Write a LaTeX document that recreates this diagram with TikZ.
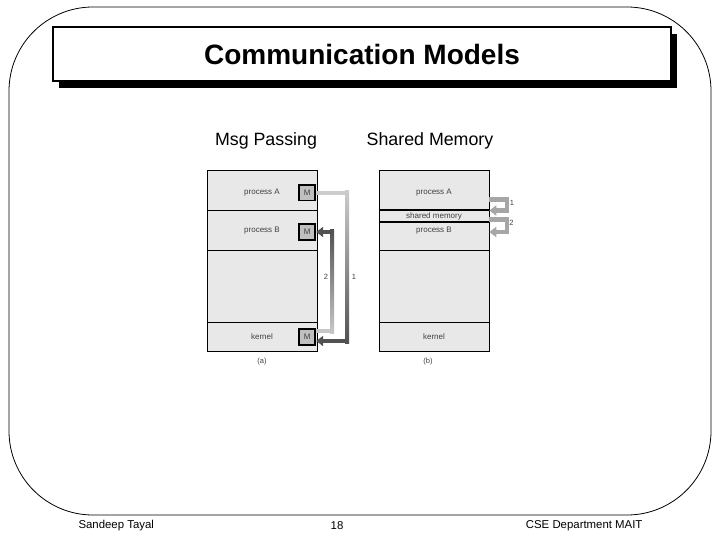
\documentclass[tikz,border=0pt]{standalone}
\usepackage{fontspec}
\setmainfont{Liberation Sans}
\usetikzlibrary{arrows.meta,calc}

\begin{document}
\begin{tikzpicture}[
    x=1pt, y=-1pt,
    sect/.style={draw, line width=0.6pt, fill=black!9, minimum width=110pt, inner sep=0pt,
                 font=\fontsize{8}{9}\selectfont, text=black!75},
    mbox/.style={draw, line width=1.7pt, fill=black!25, minimum width=16pt, minimum height=15.5pt,
                 inner sep=0pt, font=\fontsize{8}{9}\selectfont, text=black!75},
    pipe/.style={line width=4pt},
    num/.style={font=\fontsize{7.5}{8}\selectfont, text=black!75},
    foot/.style={font=\fontsize{11.4}{13}\selectfont},
    >={Triangle[length=7pt, width=10pt]}
]
    \useasboundingbox (0,0) rectangle (720,540);

    % frame and title
    \draw[line width=0.8pt, rounded corners=84pt] (9,7) rectangle (711,515);
    \fill (59,34) rectangle (677,88);
    \node[draw, line width=1.2pt, fill=white, minimum width=618pt, minimum height=54pt,
          font=\bfseries\fontsize{28}{32}\selectfont] (title) at (362,54) {Communication Models};

    % headings
    \node[font=\fontsize{17.8}{20}\selectfont] (hmsg) at (266,141) {Msg Passing};
    \node[font=\fontsize{17.8}{20}\selectfont] (hshm) at (430,141) {Shared Memory};

    % (a) message passing
    \node[sect, minimum height=40.7pt,
          label={[sect, draw=none, fill=none, yshift=-2.5pt]center:process A}] (pA) at (262,190.35) {};
    \node[sect, minimum height=39.3pt] (pB) at (262,230.35) {process B};
    \node[sect, minimum height=72pt]   (fr) at (262,286) {};
    \node[sect, minimum height=29pt]   (kn) at (262,336.5) {kernel};
    \node[mbox] (MA) at (307.3,192.8) {M};
    \node[mbox] (MB) at (307.3,232) {M};
    \node[mbox] (MK) at (307.3,337) {M};
    \node[num] (capa) at (262,362) {(a)};

    % arrow 1: A -> kernel
    \coordinate (a1t) at (347,192.8);
    \coordinate (a1b) at (347,341);
    \coordinate (kin) at ($(MK.east)+(0,4)$);
    \draw[pipe, black!20] (MA.east) -- (a1t);
    \shade[top color=black!20, bottom color=black!68] ($(a1t)+(-2,-2)$) rectangle ($(a1b)+(2,2)$);
    \draw[pipe, black!68, ->] (a1b) -- (kin);
    \node[num] (n1a) at (354,277) {1};

    % arrow 2: kernel -> B
    \coordinate (kout) at ($(MK.east)+(0,-6)$);
    \coordinate (a2b) at (332,331);
    \coordinate (a2t) at (332,232);
    \draw[pipe, black!22] (kout) -- (a2b);
    \shade[top color=black!68, bottom color=black!22] ($(a2t)+(-2,-2)$) rectangle ($(a2b)+(2,2)$);
    \draw[pipe, black!68, ->] (a2t) -- (MB.east);
    \node[num] (n2a) at (326,277) {2};

    % (b) shared memory
    \node[sect, minimum height=40pt,
          label={[sect, draw=none, fill=none, yshift=-2.5pt]center:process A}] (qA) at (434,190) {};
    \node[sect, minimum height=12pt] (sm) at (434,216) {shared memory};
    \node[sect, minimum height=28pt,
          label={[sect, draw=none, fill=none, yshift=5pt]center:process B}] (qB) at (434,236) {};
    \node[sect, minimum height=72pt] (qf) at (434,286) {};
    \node[sect, minimum height=29pt] (qk) at (434,336.5) {kernel};
    \draw[line width=1.8pt] (sm.north west) -- (sm.north east);
    \draw[line width=1.8pt] (sm.south west) -- (sm.south east);
    \node[num] (capb) at (428,362) {(b)};

    \coordinate (b1s) at (qA.east |- 0,199.5);
    \coordinate (b1e) at (sm.east |- 0,210.5);
    \coordinate (b2s) at (sm.east |- 0,219.5);
    \coordinate (b2e) at (qB.east |- 0,232);
    \draw[line width=4.5pt, black!35, line join=miter, ->] (b1s) -- ++(17.5,0) |- (b1e);
    \draw[line width=4.5pt, black!35, line join=miter, ->] (b2s) -- ++(17.5,0) |- (b2e);
    \node[num] (n1b) at (512,203) {1};
    \node[num] (n2b) at (511.5,223) {2};

    % footer
    \node[foot, anchor=west] (auth) at (75,525.5) {Sandeep Tayal};
    \node[foot] (page) at (337,525.5) {18};
    \node[foot, anchor=east] (dept) at (646,525.5) {CSE Department MAIT};
\end{tikzpicture}
\end{document}
